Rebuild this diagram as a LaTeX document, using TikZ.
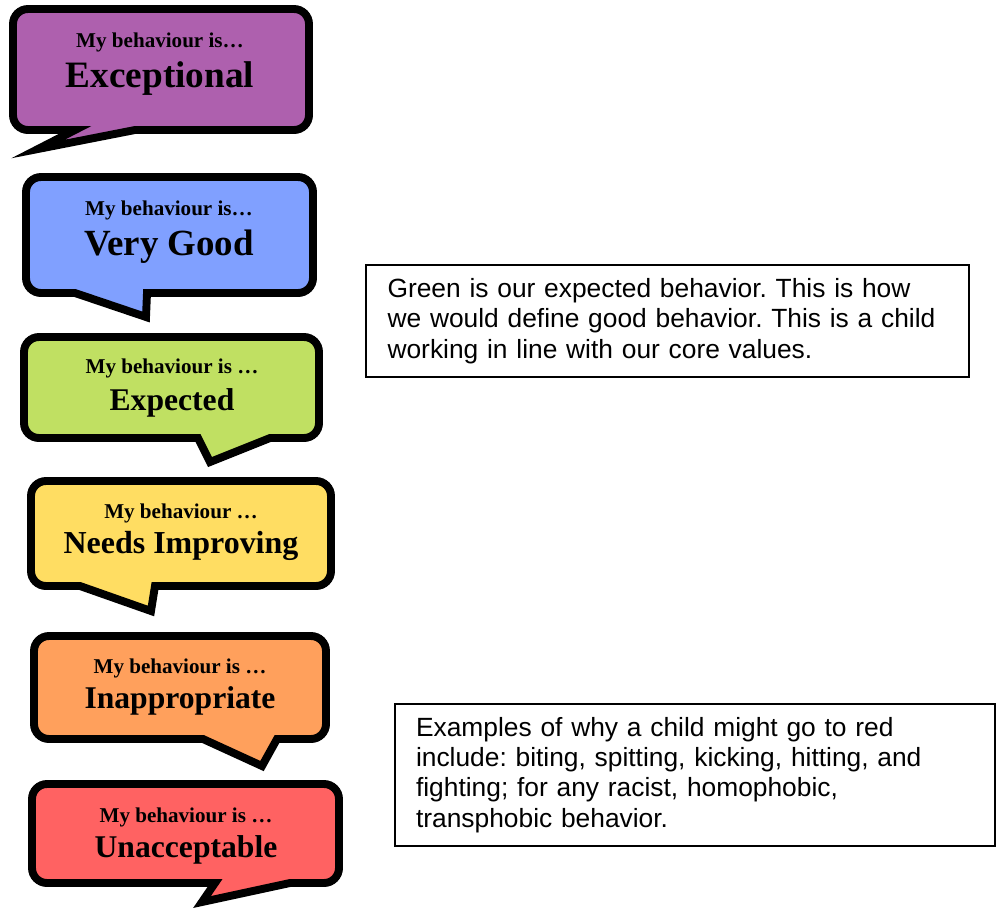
\documentclass[tikz,border=0pt]{standalone}
\usepackage{fontspec}
\setmainfont{Liberation Serif}
\newfontfamily\notefont{Liberation Sans}
\usetikzlibrary{positioning}
\frenchspacing

\definecolor{exPurple}{RGB}{174,96,174}
\definecolor{vgBlue}{RGB}{128,160,255}
\definecolor{expGreen}{RGB}{192,224,98}
\definecolor{niYellow}{RGB}{255,221,98}
\definecolor{inOrange}{RGB}{255,160,92}
\definecolor{unRed}{RGB}{255,98,98}

\tikzset{
    bubble/.style={draw=black, line width=4.5pt, line join=miter, miter limit=20},
    smalltext/.style={anchor=base, inner sep=0pt, font=\bfseries\fontsize{12}{14}\selectfont},
    bigtext/.style={anchor=base, inner sep=0pt, font=\bfseries\fontsize{#1}{#1}\selectfont},
    note/.style={draw=black, line width=0.8pt, align=left, inner ysep=0pt,
        font=\notefont\fontsize{15}{17.2}\selectfont}
}

\begin{document}
\begin{tikzpicture}[x=0.02cm, y=-0.02cm]
    \useasboundingbox (0,0) rectangle (1001,910);

    % speech bubbles
    \foreach \l/\t/\r/\b/\xa/\xb/\tx/\ty/\col in {13/9/309/130/75/135/38/149/exPurple,
        26/177/313/293/75/147/146/317/vgBlue, 24/337/319/438/198/270/210/462/expGreen,
        31/481/331/586/80/155/151/611/niYellow, 34/636/326/739/203/277/262/766/inOrange,
        32/784/339/883/215/290/202/902/unRed} {
        \draw[bubble, fill=\col] (\xa,\b) [rounded corners=0.3cm] -- (\l,\b) -- (\l,\t)
            -- (\r,\t) -- (\r,\b) [sharp corners] -- (\xb,\b) -- (\tx,\ty) -- cycle;
    }

    % bubble texts
    \foreach \n/\x/\ya/\yb/\fs/\top/\word in {ex/160/47/87/21.2/My behaviour is…/Exceptional,
        vg/169/215/255/21/My behaviour is…/Very Good, exp/172/373/410/18/My behaviour is …/Expected,
        ni/181/518/553/18.2/My behaviour …/Needs Improving, inap/180/673/708/18/My behaviour is …/Inappropriate,
        unac/186/822/857/18/My behaviour is …/Unacceptable} {
        \node[smalltext] (\n-top) at (\x,\ya) {\top};
        \node[bigtext=\fs] (\n) at (\x,\yb) {\word};
    }

    % notes
    \node[note, minimum width=12.06cm, minimum height=2.24cm, text width=11.2cm, inner xsep=0.43cm]
        (greenNote) at (667.5,321) {Green is our expected behavior. This is how\\
        we would define good behavior. This is a child\\
        working in line with our core values.};
    \node[note, minimum width=12cm, minimum height=2.84cm, text width=11.16cm, inner xsep=0.42cm]
        (redNote) at (695,775) {Examples of why a child might go to red\\
        include: biting, spitting, kicking, hitting, and\\
        fighting; for any racist, homophobic,\\
        transphobic behavior.};
\end{tikzpicture}
\end{document}
